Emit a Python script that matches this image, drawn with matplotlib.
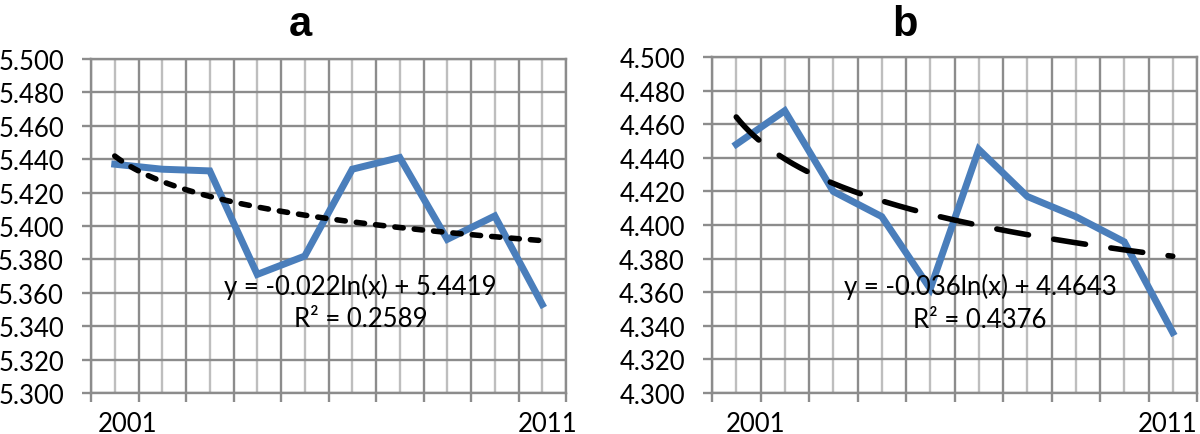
import numpy as np
import matplotlib
matplotlib.use("Agg")
import matplotlib.pyplot as plt
from matplotlib.ticker import FixedLocator, FormatStrFormatter
from matplotlib.transforms import blended_transform_factory

# ---------------- data ----------------
x_index = [1, 2, 3, 4, 5, 6, 7, 8, 9, 10]
series_a = [5.437, 5.434, 5.433, 5.371, 5.382, 5.434, 5.441, 5.392, 5.406, 5.353]
series_b = [4.448, 4.468, 4.420, 4.405, 4.362, 4.445, 4.417, 4.405, 4.390, 4.336]
trend_a = (-0.022, 5.4419)   # y = a*ln(x) + b
trend_b = (-0.036, 4.4643)
eq_a = ["y = -0.022ln(x) + 5.4419", "R\u00b2 = 0.2589"]
eq_b = ["y = -0.036ln(x) + 4.4643", "R\u00b2 = 0.4376"]
ylim_a = (5.300, 5.500)
ylim_b = (4.300, 4.500)
yticks_a = [5.300, 5.320, 5.340, 5.360, 5.380, 5.400, 5.420, 5.440, 5.460, 5.480, 5.500]
yticks_b = [4.300, 4.320, 4.340, 4.360, 4.380, 4.400, 4.420, 4.440, 4.460, 4.480, 4.500]
titles = ["a", "b"]
year_labels = ["2001", "2011"]

BLUE = "#4A7EBB"
GRID_DARK = "#8C8C8C"
GRID_LIGHT = "#BEBEBE"
FONT = ["Lato", "DejaVu Sans"]
FS = 18.5

fig = plt.figure(figsize=(12, 4.35), dpi=100)

W, H = 1200, 435
def axrect(l, r, t, b):
    return [l / W, 1 - b / H, (r - l) / W, (b - t) / H]

ax_a = fig.add_axes(axrect(91, 566, 60, 394))
ax_b = fig.add_axes(axrect(712, 1197, 58, 394))

panels = [
    (ax_a, series_a, trend_a, eq_a, ylim_a, yticks_a, (1.5, 2.0), (0.568, 0.320, 0.222), (1.26, 10.12)),
    (ax_b, series_b, trend_b, eq_b, ylim_b, yticks_b, (5.8, 4.6), (0.553, 0.318, 0.220), (1.39, 9.90)),
]

for ax, ser, tr, eq, ylim, yt, dash, eqpos, labpos in panels:
    x = np.array(x_index, dtype=float)
    ax.set_xlim(0.5, 10.5)
    ax.set_ylim(*ylim)
    ax.xaxis.set_major_locator(FixedLocator(np.arange(0.5, 10.51, 1.0)))
    ax.xaxis.set_minor_locator(FixedLocator(np.arange(1, 11, 1.0)))
    ax.yaxis.set_major_locator(FixedLocator(yt))
    ax.grid(True, which="major", axis="both", color=GRID_DARK, linewidth=1.7, zorder=0)
    ax.grid(True, which="minor", axis="x", color=GRID_LIGHT, linewidth=1.7, zorder=0)
    ax.set_axisbelow(True)
    for s in ax.spines.values():
        s.set_color(GRID_DARK)
        s.set_linewidth(1.7)
    ax.tick_params(axis="both", which="major", direction="out", length=6.5, width=1.7,
                   color=GRID_DARK, labelsize=FS, pad=13)
    ax.tick_params(axis="x", which="both", labelbottom=False)
    ax.tick_params(axis="x", which="minor", length=0)
    ax.yaxis.set_major_formatter(FormatStrFormatter("%.3f"))
    for lab in ax.get_yticklabels():
        lab.set_fontfamily(FONT)
    ax.plot(x, ser, color=BLUE, linewidth=5.0, solid_joinstyle="miter", zorder=3)
    xt = np.linspace(1, 10, 200)
    yt_line = tr[0] * np.log(xt) + tr[1]
    ax.plot(xt, yt_line, color="black", linewidth=4.0, dashes=dash,
            dash_capstyle="round", zorder=4)
    ax.text(eqpos[0], eqpos[1], eq[0], transform=ax.transAxes, ha="center", va="center",
            fontsize=FS, family=FONT, zorder=5)
    ax.text(eqpos[0], eqpos[2], eq[1], transform=ax.transAxes, ha="center", va="center",
            fontsize=FS, family=FONT, zorder=5)
    trans = blended_transform_factory(ax.transData, ax.transAxes)
    ax.text(labpos[0], -0.092, year_labels[0], transform=trans, ha="center", va="center",
            fontsize=FS, family=FONT)
    ax.text(labpos[1], -0.092, year_labels[1], transform=trans, ha="center", va="center",
            fontsize=FS, family=FONT)

fig.text(300 / W, 1 - 36 / H, titles[0], ha="center", va="baseline", fontsize=30,
         fontweight="bold", family=["Liberation Sans", "DejaVu Sans"])
fig.text(905 / W, 1 - 36 / H, titles[1], ha="center", va="baseline", fontsize=30,
         fontweight="bold", family=["Liberation Sans", "DejaVu Sans"])

fig.savefig("out.png", dpi=100)
